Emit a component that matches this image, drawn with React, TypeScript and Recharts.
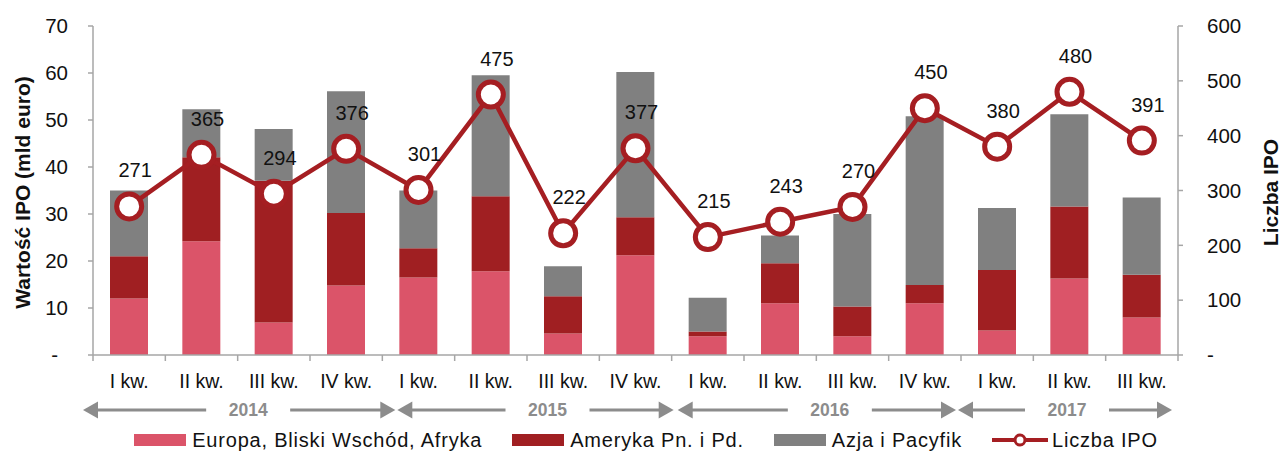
import { ComposedChart, Bar, Line, XAxis, YAxis, Legend, LabelList } from 'recharts'

const quarters = ['I kw.', 'II kw.', 'III kw.', 'IV kw.', 'I kw.', 'II kw.', 'III kw.', 'IV kw.', 'I kw.', 'II kw.', 'III kw.', 'IV kw.', 'I kw.', 'II kw.', 'III kw.']
const years = ['2014', '2014', '2014', '2014', '2015', '2015', '2015', '2015', '2016', '2016', '2016', '2016', '2017', '2017', '2017']
const emea = [12.0, 24.2, 6.9, 14.8, 16.5, 17.8, 4.6, 21.2, 4.0, 11.0, 4.0, 11.0, 5.2, 16.3, 8.0]
const americas = [9.0, 17.9, 30.2, 15.4, 6.2, 16.0, 7.9, 8.1, 1.0, 8.5, 6.3, 3.9, 12.9, 15.3, 9.1]
const apac = [14.0, 10.2, 11.0, 25.9, 12.3, 25.7, 6.4, 30.9, 7.2, 5.9, 19.7, 35.9, 13.2, 19.6, 16.4]
const ipoCount = [271, 365, 294, 376, 301, 475, 222, 377, 215, 243, 270, 450, 380, 480, 391]

const leftTicks = [0, 10, 20, 30, 40, 50, 60, 70]
const rightTicks = [0, 100, 200, 300, 400, 500, 600]

const seriesNames = ['Europa, Bliski Wschód, Afryka', 'Ameryka Pn. i Pd.', 'Azja i Pacyfik', 'Liczba IPO']
const COLORS = ['#DB5469', '#A01F22', '#808080', '#A51E22']

const W = 1282
const H = 455
const LEFT_W = 93
const RIGHT_W = 104
const BAND = (W - LEFT_W - RIGHT_W) / quarters.length
const AXIS = '#A6A6A6'
const TEXT = '#111'
// hand-drawn year arrows in the original don't sit exactly on the band edges
const ARROW_SHIFT: Record<string, [number, number, number]> = {
  '2014': [-10, 13, 9],
  '2015': [15, 2, 12],
  '2016': [6, -5, 13],
  '2017': [-3, -6, 2],
}

const data = quarters.map((q, i) => ({
  q,
  year: years[i],
  emea: emea[i],
  americas: americas[i],
  apac: apac[i],
  ipo: ipoCount[i],
}))

const QuarterTick = (props: any) => {
  const { x, y, payload, index } = props
  const left = x - BAND / 2
  return (
    <g>
      <line x1={left} y1={y} x2={left} y2={y + 6} stroke={AXIS} strokeWidth={1.5} />
      {index === quarters.length - 1 && (
        <line x1={left + BAND} y1={y} x2={left + BAND} y2={y + 6} stroke={AXIS} strokeWidth={1.5} />
      )}
      <text x={x} y={y + 33} textAnchor='middle' fontSize={19.5} fill={TEXT}>
        {payload.value}
      </text>
    </g>
  )
}

const YearTick = (props: any) => {
  const { x, y, index } = props
  if (index > 0 && years[index - 1] === years[index]) return <g />
  const yr = years[index]
  const n = years.filter((yy) => yy === yr).length
  const [s0, s1, st] = ARROW_SHIFT[yr] || [0, 0, 0]
  const x0 = x - BAND / 2 + s0
  const x1 = x - BAND / 2 + n * BAND + s1
  const ay = y + 15
  const tc = (x0 + x1) / 2 + st
  const gap = 42
  const fill = '#8C8C8C'
  return (
    <g>
      <line x1={x0 + 12} y1={ay} x2={tc - gap} y2={ay} stroke={fill} strokeWidth={3} />
      <line x1={tc + gap} y1={ay} x2={x1 - 12} y2={ay} stroke={fill} strokeWidth={3} />
      <polygon points={`${x0},${ay} ${x0 + 15},${ay - 8.5} ${x0 + 15},${ay + 8.5}`} fill={fill} />
      <polygon points={`${x1},${ay} ${x1 - 15},${ay - 8.5} ${x1 - 15},${ay + 8.5}`} fill={fill} />
      <text x={tc} y={ay} dominantBaseline='central' textAnchor='middle' fontSize={17.5} fontWeight='bold' fill={fill}>
        {yr}
      </text>
    </g>
  )
}

const LeftTick = ({ x, y, payload }: any) => (
  <text x={payload.value === 0 ? x - 10 : x} y={y} dy='0.35em' textAnchor='end' fontSize={20.5} fill={TEXT}>
    {payload.value === 0 ? '-' : payload.value}
  </text>
)

const RightTick = ({ x, y, payload }: any) => (
  <text x={x} y={y} dy='0.35em' textAnchor='start' fontSize={20.5} fill={TEXT}>
    {payload.value === 0 ? '-' : payload.value}
  </text>
)

const AxisTitle = ({ viewBox, text, side }: any) => {
  const cx = side === 'left' ? viewBox.x + 22 : viewBox.x + viewBox.width - 12
  const cy = viewBox.y + viewBox.height / 2 + 2
  return (
    <text
      x={cx}
      y={cy}
      transform={`rotate(-90, ${cx}, ${cy})`}
      textAnchor='middle'
      dominantBaseline='central'
      fontSize={21}
      fontWeight='bold'
      fill={TEXT}
    >
      {text}
    </text>
  )
}

const renderLegend = () => (
  <div
    style={{
      height: 30,
      display: 'flex',
      justifyContent: 'center',
      alignItems: 'center',
      gap: 30,
      fontSize: 20,
      letterSpacing: 0.8,
      color: TEXT,
      paddingLeft: 10,
    }}
  >
    {seriesNames.map((name, i) => (
      <div key={name} style={{ display: 'flex', alignItems: 'center' }}>
        {i < 3 ? (
          <div style={{ width: 52, height: 12, background: COLORS[i], marginRight: 6 }} />
        ) : (
          <svg width={56} height={16} style={{ marginRight: 4 }}>
            <line x1={0} y1={8} x2={56} y2={8} stroke={COLORS[3]} strokeWidth={4} />
            <circle cx={28} cy={8} r={5} fill='#fff' stroke={COLORS[3]} strokeWidth={3} />
          </svg>
        )}
        <span>{name}</span>
      </div>
    ))}
  </div>
)

const App = (): JSX.Element => {
  return (
    <div
      style={{
        position: 'absolute',
        left: 0,
        top: 0,
        width: W,
        height: H,
        fontFamily: '"Liberation Sans", Arial, sans-serif',
        background: '#fff',
      }}
    >
      <ComposedChart width={W} height={H} data={data} margin={{ top: 26, right: 0, bottom: 0, left: 0 }}>
        <XAxis
          xAxisId='q'
          dataKey='q'
          interval={0}
          height={40}
          stroke={AXIS}
          strokeWidth={1.5}
          tickLine={false}
          tickSize={0}
          tickMargin={0}
          tick={<QuarterTick />}
        />
        <XAxis
          xAxisId='year'
          dataKey='year'
          interval={0}
          height={30}
          axisLine={false}
          tickLine={false}
          tickSize={0}
          tickMargin={0}
          tick={<YearTick />}
        />
        <YAxis
          yAxisId='left'
          width={LEFT_W}
          domain={[0, 70]}
          ticks={leftTicks}
          interval={0}
          stroke={AXIS}
          strokeWidth={1.5}
          tickSize={5}
          tickMargin={20}
          tick={<LeftTick />}
          label={<AxisTitle side='left' text='Wartość IPO (mld euro)' />}
        />
        <YAxis
          yAxisId='right'
          orientation='right'
          width={RIGHT_W}
          domain={[0, 600]}
          ticks={rightTicks}
          interval={0}
          stroke={AXIS}
          strokeWidth={1.5}
          tickSize={5}
          tickMargin={24}
          tick={<RightTick />}
          label={<AxisTitle side='right' text='Liczba IPO' />}
        />
        <Legend verticalAlign='bottom' content={renderLegend} />
        <Bar xAxisId='q' yAxisId='left' dataKey='emea' name={seriesNames[0]} stackId='a' fill={COLORS[0]} barSize={38} isAnimationActive={false} />
        <Bar xAxisId='q' yAxisId='left' dataKey='americas' name={seriesNames[1]} stackId='a' fill={COLORS[1]} barSize={38} isAnimationActive={false} />
        <Bar xAxisId='q' yAxisId='left' dataKey='apac' name={seriesNames[2]} stackId='a' fill={COLORS[2]} barSize={38} isAnimationActive={false} />
        <Line
          xAxisId='q'
          yAxisId='right'
          dataKey='ipo'
          name={seriesNames[3]}
          stroke={COLORS[3]}
          strokeWidth={4.5}
          dot={{ r: 12.5, fill: '#fff', stroke: COLORS[3], strokeWidth: 5 }}
          isAnimationActive={false}
        >
          <LabelList
            dataKey='ipo'
            content={(p: any) => (
              <text x={p.x + 6} y={p.y - 36} textAnchor='middle' dominantBaseline='central' fontSize={20} fill={TEXT}>
                {p.value}
              </text>
            )}
          />
        </Line>
      </ComposedChart>
    </div>
  )
}

export default App
